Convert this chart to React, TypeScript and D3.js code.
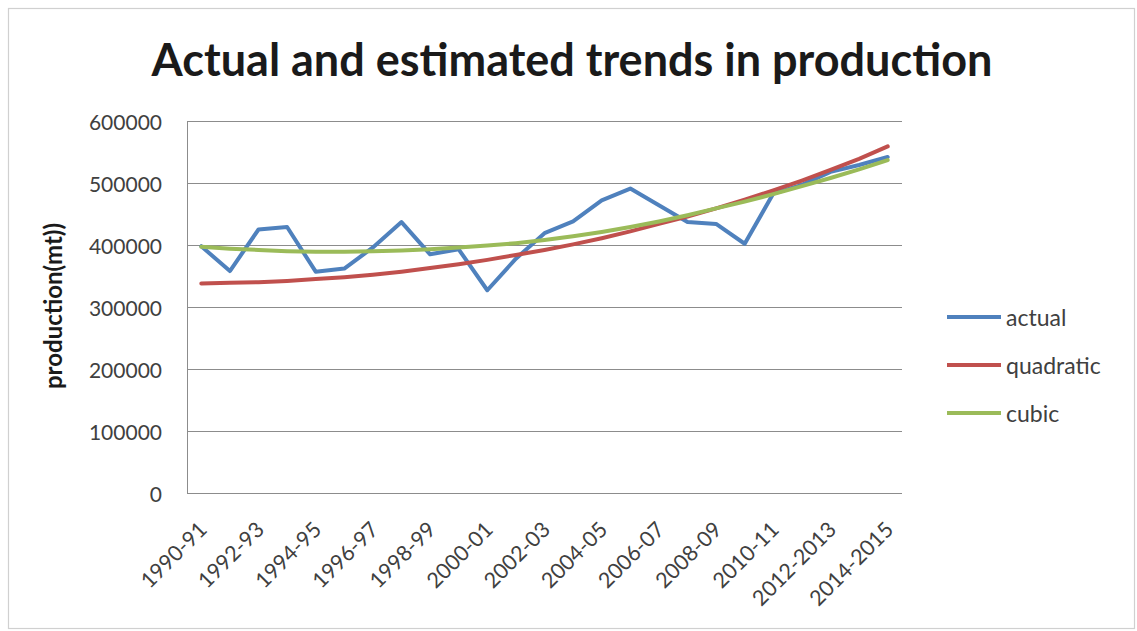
import React from "react";
import * as d3 from "d3";

const categories = [
  "1990-91", "1991-92", "1992-93", "1993-94", "1994-95", "1995-96", "1996-97",
  "1997-98", "1998-99", "1999-00", "2000-01", "2001-02", "2002-03", "2003-04",
  "2004-05", "2005-06", "2006-07", "2007-08", "2008-09", "2009-10", "2010-11",
  "2011-12", "2012-2013", "2013-2014", "2014-2015",
];

const actual = [
  398000, 358000, 425000, 429000, 357000, 362000, 396000, 437000, 385000, 393000,
  327000, 378000, 419000, 438000, 472000, 491000, 464000, 437000, 434000, 402000,
  483000, 497000, 518000, 529000, 542000,
];

const quadratic = [
  338000, 339000, 340000, 342000, 345000, 348000, 352000, 357000, 363000, 369000,
  376000, 384000, 392000, 401000, 411000, 422000, 434000, 446000, 459000, 473000,
  488000, 504000, 521000, 539000, 559000,
];

const cubic = [
  397000, 394000, 392000, 390000, 389000, 389000, 390000, 391000, 393000, 396000,
  399000, 403000, 408000, 414000, 421000, 429000, 438000, 448000, 459000, 470000,
  482000, 495000, 508000, 522000, 537000,
];

const yTicks = [0, 100000, 200000, 300000, 400000, 500000, 600000];
const seriesNames = ["actual", "quadratic", "cubic"];
const seriesColors = ["#4F81BD", "#C0504D", "#9BBB59"];
const title = "Actual and estimated trends in production";
const yTitle = "production(mt))";

const FONT = "Lato, Carlito, 'Open Sans', sans-serif";

export default function App() {
  const W = 1137;
  const H = 631;
  const x = d3.scaleBand<string>().domain(categories).range([187, 902]);
  const y = d3.scaleLinear().domain([0, 600000]).range([493, 121]);
  const cx = (i: number) => (x(categories[i]) as number) + x.bandwidth() / 2;
  const line = d3
    .line<number>()
    .x((_, i) => cx(i))
    .y((d) => y(d));
  const series = [actual, quadratic, cubic];
  const legendY = [317, 365, 413];

  return (
    <svg
      width={W}
      height={H}
      style={{ position: "absolute", left: 0, top: 0, background: "#fff" }}
      fontFamily={FONT}
    >
      <rect x={0} y={0} width={W} height={H} fill="#fff" />
      <rect x={8.5} y={8.5} width={1126} height={620} fill="none" stroke="#d0d0d0" strokeWidth={1.2} />
      <text
        x={572}
        y={76}
        textAnchor="middle"
        fontSize={45}
        fontWeight="bold"
        fill="#1a1a1a"
      >
        {title}
      </text>

      {yTicks.map((t) => (
        <line key={"g" + t} x1={187} x2={902} y1={Math.round(y(t)) + 0.5} y2={Math.round(y(t)) + 0.5} stroke="#8c8c8c" strokeWidth={1} />
      ))}
      <line x1={187.5} x2={187.5} y1={y(600000)} y2={y(0)} stroke="#8c8c8c" strokeWidth={1} />

      {yTicks.map((t) => (
        <text key={"yl" + t} x={162} y={y(t)} textAnchor="end" dominantBaseline="central" fontSize={21} fill="#404040">
          {t}
        </text>
      ))}

      {categories.map((c, i) =>
        i % 2 === 0 ? (
          <text
            key={"xl" + c}
            x={0}
            y={0}
            transform={`translate(${cx(i) + 7},${531}) rotate(-45)`}
            textAnchor="end"
            fontSize={21.5}
            fill="#404040"
          >
            {c}
          </text>
        ) : null
      )}

      <text
        transform={`translate(62,306) rotate(-90)`}
        textAnchor="middle"
        fontSize={24}
        fontWeight="bold"
        fill="#1a1a1a"
      >
        {yTitle}
      </text>

      {series.map((s, k) => (
        <path key={"s" + k} d={line(s) as string} fill="none" stroke={seriesColors[k]} strokeWidth={4} strokeLinejoin="round" strokeLinecap="round" />
      ))}

      {seriesNames.map((n, k) => (
        <g key={"lg" + n}>
          <line x1={947} x2={1001} y1={legendY[k]} y2={legendY[k]} stroke={seriesColors[k]} strokeWidth={4} />
          <text x={1006} y={legendY[k]} dominantBaseline="central" fontSize={23} fill="#404040">
            {n}
          </text>
        </g>
      ))}
    </svg>
  );
}
